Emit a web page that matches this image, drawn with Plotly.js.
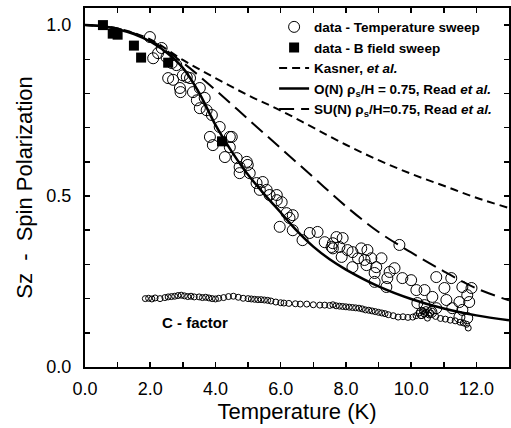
<!DOCTYPE html>
<html>
<head>
<meta charset="utf-8">
<script src="https://cdn.plot.ly/plotly-3.0.1.min.js"></script>
<style>html,body{margin:0;padding:0;background:#fff;}#chart{width:511px;height:428px;}</style>
</head>
<body>
<div id="chart"></div>
<script>
// Temperature sweep data (open circles)
var tempT = [1.99,2.24,2.09,2.35,2.5,2.66,2.8,2.55,2.7,3.0,3.12,3.22,2.91,2.93,3.31,3.52,3.43,3.67,3.52,3.73,3.89,4.13,3.83,4.44,
  4.5,3.92,4.44,4.29,4.65,4.96,4.74,4.99,5.05,4.74,5.26,5.45,5.36,5.57,5.66,5.88,5.88,6.03,6.18,6.27,6.37,5.97,6.37,6.67,6.89,7.13,7.35,7.56,7.71,7.9,7.8,7.87,8.05,
  7.6,7.6,8.2,8.47,8.66,8.37,8.57,8.78,9.09,8.2,8.63,8.93,8.88,9.34,9.49,8.88,9.27,9.24,9.64,9.73,10.0,10.16,10.41,10.77,11.23,11.02,10.65,11.08,11.57,11.85,11.72,11.48,11.78,11.26,11.57,10.77,10.41,10.19,10.32,10.62,11.72,11.48];
var tempS = [0.965,0.918,0.903,0.933,0.906,0.889,0.883,0.845,0.84,0.853,0.848,0.845,0.816,0.804,0.804,0.816,0.78,0.787,0.757,0.751,0.737,0.702,0.673,0.673,
  0.673,0.649,0.643,0.614,0.611,0.6,0.585,0.591,0.567,0.567,0.538,0.541,0.518,0.518,0.503,0.503,0.488,0.482,0.45,0.436,0.444,0.41,0.4,0.371,0.392,0.395,0.365,0.351,0.38,0.377,0.351,0.322,0.342,
  0.362,0.347,0.336,0.347,0.342,0.318,0.313,0.318,0.318,0.292,0.298,0.292,0.275,0.278,0.289,0.249,0.26,0.234,0.357,0.26,0.254,0.225,0.225,0.263,0.26,0.231,0.205,0.196,0.234,0.231,0.21,0.19,0.19,0.172,0.167,0.172,0.181,0.187,0.158,0.161,0.143,0.146];

// B field sweep data (filled squares)
var fieldT = [0.55,0.85,1.0,1.5,1.72,2.55,4.2];
var fieldS = [1.0,0.975,0.972,0.94,0.905,0.89,0.66];

// C-factor (small open circles)
var cT = [1.85,1.95,2.05,2.15,2.3,2.45,2.55,2.65,2.75,2.85,2.95,3.05,3.15,3.25,3.35,3.5,3.6,3.7,3.8,3.9,4.0,4.1,4.25,4.4,4.55,4.7,4.85,5.0,5.1,5.2,5.3,5.4,5.5,5.6,5.7,5.85,6.0,6.1,6.25,6.45,6.6,6.8,7.0,7.2,7.35,7.5,7.6,7.7,7.8,7.9,8.0,8.1,8.2,8.3,8.4,8.5,8.6,8.7,8.8,8.9,9.0,9.1,9.2,9.3,9.45,9.6,9.75,9.9,10.05,10.15,10.25,10.35,10.45,10.55,10.65,10.75,10.9,11.05,11.2,11.35,11.5,11.6,11.7,11.75,
  10.3,10.4,10.5,10.6,10.45,10.35];
var cS = [0.2,0.201,0.199,0.202,0.2,0.203,0.205,0.206,0.207,0.209,0.21,0.208,0.206,0.207,0.205,0.205,0.203,0.204,0.202,0.2,0.199,0.201,0.203,0.206,0.207,0.204,0.201,0.2,0.199,0.198,0.197,0.197,0.196,0.195,0.193,0.19,0.188,0.187,0.186,0.185,0.184,0.184,0.182,0.181,0.181,0.18,0.182,0.179,0.178,0.177,0.176,0.175,0.174,0.173,0.172,0.17,0.167,0.166,0.164,0.162,0.16,0.158,0.156,0.153,0.15,0.146,0.147,0.145,0.146,0.15,0.158,0.165,0.16,0.152,0.163,0.148,0.142,0.14,0.137,0.135,0.131,0.129,0.125,0.114,
  0.15,0.155,0.143,0.158,0.168,0.162];

// Theory curves
var kasT = [0,1,2,3,4,5,6,7,8,9,10,11,12,13];
var kasS = [1.0,0.99,0.958,0.898,0.845,0.795,0.75,0.70,0.65,0.605,0.565,0.53,0.495,0.465];
var onT = [0,0.5,1,1.5,2,2.5,3,3.5,4,4.5,5,5.5,6,6.5,7,7.5,8,9,10,11,12,13];
var onS = [1.0,0.997,0.988,0.974,0.952,0.92,0.875,0.802,0.708,0.63,0.562,0.505,0.452,0.398,0.352,0.315,0.285,0.236,0.199,0.171,0.151,0.137];
var sunT = [0,1,2,3,4,5,6,7,8,9,10,11,12,13];
var sunS = [1.0,0.99,0.955,0.89,0.81,0.725,0.64,0.555,0.47,0.395,0.335,0.28,0.23,0.195];

var legendNames = [
  'data - Temperature sweep',
  'data - B field sweep',
  'Kasner, <i>et al.</i>',
  'O(N) ρ<sub>s</sub>/H = 0.75, Read <i>et al.</i>',
  'SU(N) ρ<sub>s</sub>/H=0.75, Read <i>et al.</i>'
];
var cLabel = 'C - factor';
var xTitle = 'Temperature (K)';
var yTitle = 'Sz  -  Spin Polarization';

var FONT = 'Liberation Sans, Arial, Helvetica, sans-serif';

var traces = [
  {x: tempT, y: tempS, mode: 'markers', type: 'scatter', name: legendNames[0],
   marker: {symbol: 'circle-open', size: 11, color: '#000', line: {width: 1, color: '#000'}}},
  {x: fieldT, y: fieldS, mode: 'markers', type: 'scatter', name: legendNames[1],
   marker: {symbol: 'square', size: 10, color: '#000'}},
  {x: kasT, y: kasS, mode: 'lines', type: 'scatter', name: legendNames[2],
   line: {color: '#000', width: 2, dash: '8px,5px', shape: 'spline'}},
  {x: onT, y: onS, mode: 'lines', type: 'scatter', name: legendNames[3],
   line: {color: '#000', width: 2.5, shape: 'spline'}},
  {x: sunT, y: sunS, mode: 'lines', type: 'scatter', name: legendNames[4],
   line: {color: '#000', width: 2, dash: '15px,7px', shape: 'spline'}},
  {x: cT, y: cS, mode: 'markers', type: 'scatter', name: cLabel, showlegend: false,
   marker: {symbol: 'circle-open', size: 6, color: '#000', line: {width: 1, color: '#000'}}}
];

var axisCommon = {
  showline: true, linewidth: 2, linecolor: '#000', mirror: 'ticks',
  ticks: 'inside', ticklen: 5, tickwidth: 1.5, tickcolor: '#000',
  showgrid: false, zeroline: false, tickformat: '.1f',
  tickfont: {family: FONT, size: 18, color: '#000'}
};

var layout = {
  width: 511, height: 428,
  margin: {l: 85, r: 2, t: 8, b: 61, autoexpand: false},
  paper_bgcolor: '#fff', plot_bgcolor: '#fff',
  font: {family: FONT, color: '#000'},
  xaxis: Object.assign({}, axisCommon, {
    range: [0, 13], tick0: 0, dtick: 2, ticklabelstandoff: 4,
    minor: {dtick: 1, ticks: 'inside', ticklen: 5, tickwidth: 1.5, tickcolor: '#000'},
    title: {text: xTitle, font: {family: FONT, size: 22, color: '#000'}, standoff: 6}
  }),
  yaxis: Object.assign({}, axisCommon, {
    range: [0, 1.05], tick0: 0, dtick: 0.5, ticklabelstandoff: 8,
    minor: {dtick: 0.1, ticks: 'inside', ticklen: 5, tickwidth: 1.5, tickcolor: '#000'},
    title: {text: yTitle, font: {family: FONT, size: 22, color: '#000'}, standoff: 8}
  }),
  legend: {x: 0.446, y: 0.99, xanchor: 'left', yanchor: 'top',
    bgcolor: 'rgba(0,0,0,0)', borderwidth: 0, itemwidth: 30,
    font: {family: FONT, size: 13.5, color: '#000', weight: 'bold'}},
  annotations: [{x: 3.37, y: 0.13, xref: 'x', yref: 'y', text: cLabel, showarrow: false,
    font: {family: FONT, size: 15, color: '#000', weight: 'bold'}}]
};

Plotly.newPlot('chart', traces, layout, {displayModeBar: false, staticPlot: true});
</script>
</body>
</html>
